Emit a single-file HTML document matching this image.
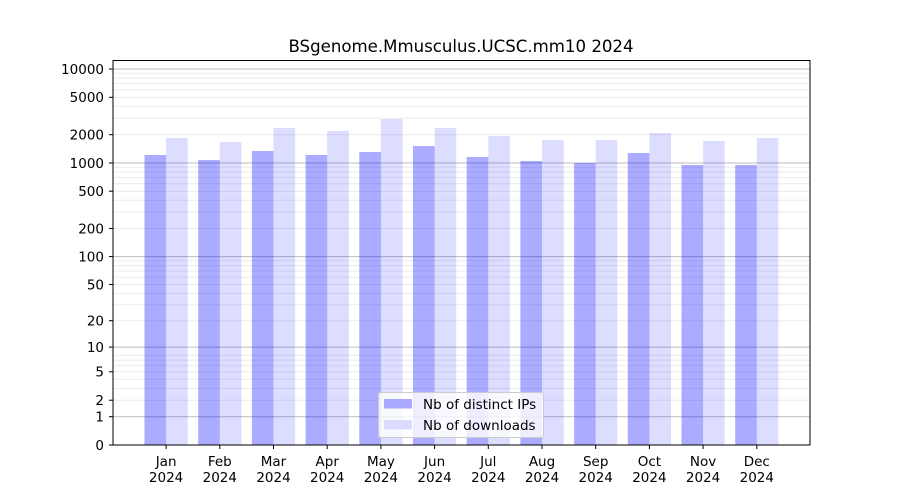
<!DOCTYPE html>
<html><head><meta charset="utf-8"><style>body{margin:0;background:#fff}svg{display:block}text{font-family:"DejaVu Sans","Liberation Sans",sans-serif;fill:#000}</style></head><body>
<svg width="900" height="500" viewBox="0 0 900 500" xmlns="http://www.w3.org/2000/svg">
<rect width="900" height="500" fill="#fff"/>
<g stroke="#ebebeb" stroke-width="1">
<line x1="113" x2="810" y1="400.2" y2="400.2"/><line x1="113" x2="810" y1="388.4" y2="388.4"/><line x1="113" x2="810" y1="379.3" y2="379.3"/><line x1="113" x2="810" y1="371.8" y2="371.8"/><line x1="113" x2="810" y1="365.6" y2="365.6"/><line x1="113" x2="810" y1="360.1" y2="360.1"/><line x1="113" x2="810" y1="355.3" y2="355.3"/>
<line x1="113" x2="810" y1="320.7" y2="320.7"/><line x1="113" x2="810" y1="304.8" y2="304.8"/><line x1="113" x2="810" y1="293.4" y2="293.4"/><line x1="113" x2="810" y1="284.5" y2="284.5"/><line x1="113" x2="810" y1="277.2" y2="277.2"/><line x1="113" x2="810" y1="271" y2="271"/><line x1="113" x2="810" y1="265.6" y2="265.6"/><line x1="113" x2="810" y1="260.8" y2="260.8"/>
<line x1="113" x2="810" y1="228.5" y2="228.5"/><line x1="113" x2="810" y1="212" y2="212"/><line x1="113" x2="810" y1="200.3" y2="200.3"/><line x1="113" x2="810" y1="191.2" y2="191.2"/><line x1="113" x2="810" y1="183.8" y2="183.8"/><line x1="113" x2="810" y1="177.5" y2="177.5"/><line x1="113" x2="810" y1="172" y2="172"/><line x1="113" x2="810" y1="167.2" y2="167.2"/>
<line x1="113" x2="810" y1="134.7" y2="134.7"/><line x1="113" x2="810" y1="118.2" y2="118.2"/><line x1="113" x2="810" y1="106.4" y2="106.4"/><line x1="113" x2="810" y1="97.3" y2="97.3"/><line x1="113" x2="810" y1="89.9" y2="89.9"/><line x1="113" x2="810" y1="83.6" y2="83.6"/><line x1="113" x2="810" y1="78.1" y2="78.1"/><line x1="113" x2="810" y1="73.3" y2="73.3"/>
</g>
<g stroke="#bcbcbc" stroke-width="1">
<line x1="113" x2="810" y1="416.7" y2="416.7"/><line x1="113" x2="810" y1="347.1" y2="347.1"/><line x1="113" x2="810" y1="256.6" y2="256.6"/><line x1="113" x2="810" y1="163" y2="163"/><line x1="113" x2="810" y1="69" y2="69"/>
</g>
<g fill="rgba(0,0,255,0.33)">
<rect x="144.5" y="155" width="21.6" height="290"/>
<rect x="198.2" y="160" width="21.6" height="285"/>
<rect x="251.9" y="151" width="21.6" height="294"/>
<rect x="305.6" y="155" width="21.6" height="290"/>
<rect x="359.3" y="152" width="21.6" height="293"/>
<rect x="413" y="146" width="21.6" height="299"/>
<rect x="466.7" y="157" width="21.6" height="288"/>
<rect x="520.4" y="161" width="21.6" height="284"/>
<rect x="574.1" y="163" width="21.6" height="282"/>
<rect x="627.8" y="153" width="21.6" height="292"/>
<rect x="681.5" y="165" width="21.6" height="280"/>
<rect x="735.2" y="165" width="21.6" height="280"/>
</g>
<g fill="rgba(0,0,255,0.135)">
<rect x="166.1" y="138" width="21.6" height="307"/>
<rect x="219.8" y="142" width="21.6" height="303"/>
<rect x="273.5" y="128" width="21.6" height="317"/>
<rect x="327.2" y="131" width="21.6" height="314"/>
<rect x="380.9" y="119" width="21.6" height="326"/>
<rect x="434.6" y="128" width="21.6" height="317"/>
<rect x="488.3" y="136" width="21.6" height="309"/>
<rect x="542" y="140" width="21.6" height="305"/>
<rect x="595.7" y="140" width="21.6" height="305"/>
<rect x="649.4" y="133" width="21.6" height="312"/>
<rect x="703.1" y="141" width="21.6" height="304"/>
<rect x="756.8" y="138" width="21.6" height="307"/>
</g>
<rect x="113" y="60.5" width="697" height="384.5" fill="none" stroke="#000" stroke-width="1"/>
<g stroke="#000" stroke-width="1">
<line x1="109" x2="113" y1="445" y2="445"/><line x1="109" x2="113" y1="416.7" y2="416.7"/><line x1="109" x2="113" y1="400.2" y2="400.2"/><line x1="109" x2="113" y1="371.8" y2="371.8"/><line x1="109" x2="113" y1="347.1" y2="347.1"/><line x1="109" x2="113" y1="320.7" y2="320.7"/><line x1="109" x2="113" y1="284.5" y2="284.5"/><line x1="109" x2="113" y1="256.6" y2="256.6"/><line x1="109" x2="113" y1="228.5" y2="228.5"/><line x1="109" x2="113" y1="191.2" y2="191.2"/><line x1="109" x2="113" y1="163" y2="163"/><line x1="109" x2="113" y1="134.7" y2="134.7"/><line x1="109" x2="113" y1="97.3" y2="97.3"/><line x1="109" x2="113" y1="69" y2="69"/>
<line x1="166.1" x2="166.1" y1="445" y2="449"/><line x1="219.8" x2="219.8" y1="445" y2="449"/><line x1="273.5" x2="273.5" y1="445" y2="449"/><line x1="327.2" x2="327.2" y1="445" y2="449"/><line x1="380.9" x2="380.9" y1="445" y2="449"/><line x1="434.6" x2="434.6" y1="445" y2="449"/><line x1="488.3" x2="488.3" y1="445" y2="449"/><line x1="542" x2="542" y1="445" y2="449"/><line x1="595.7" x2="595.7" y1="445" y2="449"/><line x1="649.4" x2="649.4" y1="445" y2="449"/><line x1="703.1" x2="703.1" y1="445" y2="449"/><line x1="756.8" x2="756.8" y1="445" y2="449"/>
</g>
<g font-size="13.5" text-anchor="end">
<text x="104" y="449.8">0</text><text x="104" y="421.5">1</text><text x="104" y="405">2</text><text x="104" y="376.6">5</text><text x="104" y="351.9">10</text><text x="104" y="325.5">20</text><text x="104" y="289.3">50</text><text x="104" y="261.4">100</text><text x="104" y="233.3">200</text><text x="104" y="196">500</text><text x="104" y="167.8">1000</text><text x="104" y="139.5">2000</text><text x="104" y="102.1">5000</text><text x="104" y="73.8">10000</text>
</g>
<g font-size="13.5" text-anchor="middle">
<text x="166.1" y="466">Jan</text><text x="166.1" y="482">2024</text>
<text x="219.8" y="466">Feb</text><text x="219.8" y="482">2024</text>
<text x="273.5" y="466">Mar</text><text x="273.5" y="482">2024</text>
<text x="327.2" y="466">Apr</text><text x="327.2" y="482">2024</text>
<text x="380.9" y="466">May</text><text x="380.9" y="482">2024</text>
<text x="434.6" y="466">Jun</text><text x="434.6" y="482">2024</text>
<text x="488.3" y="466">Jul</text><text x="488.3" y="482">2024</text>
<text x="542" y="466">Aug</text><text x="542" y="482">2024</text>
<text x="595.7" y="466">Sep</text><text x="595.7" y="482">2024</text>
<text x="649.4" y="466">Oct</text><text x="649.4" y="482">2024</text>
<text x="703.1" y="466">Nov</text><text x="703.1" y="482">2024</text>
<text x="756.8" y="466">Dec</text><text x="756.8" y="482">2024</text>
<text x="461" y="52" font-size="16.6">BSgenome.Mmusculus.UCSC.mm10 2024</text>
</g>
<rect x="378.5" y="392.5" width="165" height="45" rx="2" fill="rgba(255,255,255,0.8)" stroke="#cccccc"/>
<rect x="384" y="399" width="28" height="9.5" fill="#aaaaff"/>
<rect x="384" y="420" width="28" height="9.5" fill="#dcdcff"/>
<g font-size="13.5"><text x="423" y="408.8">Nb of distinct IPs</text><text x="423" y="429.8">Nb of downloads</text></g>
</svg>
</body></html>
